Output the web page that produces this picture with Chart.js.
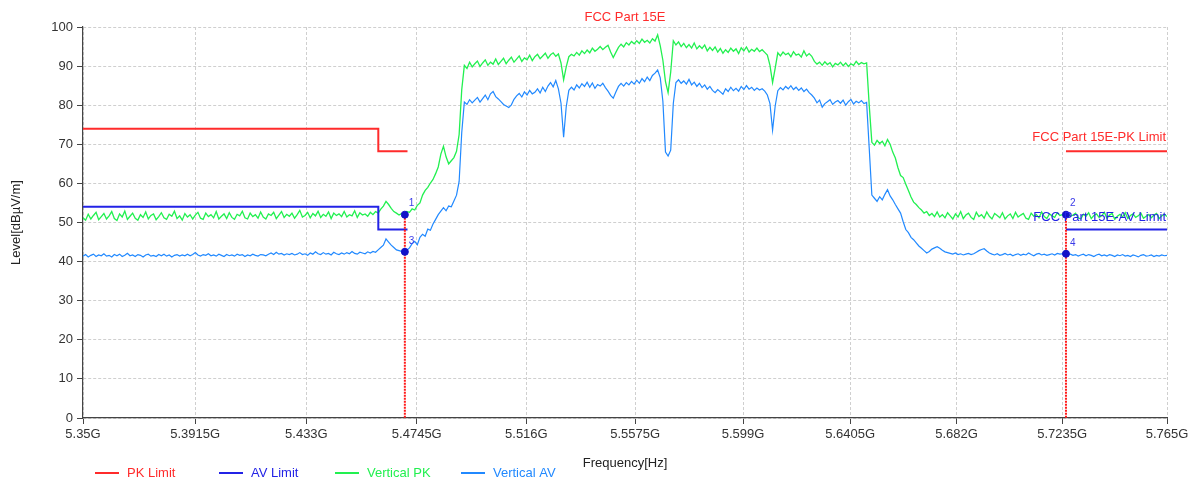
<!DOCTYPE html>
<html>
<head>
<meta charset="utf-8">
<script src="https://cdn.jsdelivr.net/npm/chart.js@4/dist/chart.umd.min.js"></script>
<style>
  html, body { margin: 0; padding: 0; background: #fff; }
  #wrap { width: 1197px; height: 479px; }
</style>
</head>
<body>
<div id="wrap"><canvas id="chart" width="1197" height="479"></canvas></div>
<script>
// log sweep: 5.35 GHz .. 5.765 GHz, 416 points (frequency axis is logarithmic)
const sweepStart = 5.35
const sweepStop = 5.765

const xTickValues = [5.35, 5.3915, 5.433, 5.4745, 5.516, 5.5575, 5.599, 5.6405, 5.682, 5.7235, 5.765]
const xTickLabels = ['5.35G', '5.3915G', '5.433G', '5.4745G', '5.516G', '5.5575G', '5.599G', '5.6405G', '5.682G', '5.7235G', '5.765G']

// Vertical PK trace [dBµV/m]
const verticalPK = [
  51.2, 50.6, 52.1, 50.9, 51.8, 52.6, 50.7, 51.5, 52.3, 50.9,
  51.7, 52.8, 51.0, 50.5, 52.2, 51.4, 52.9, 50.8, 51.6, 52.4,
  51.1, 50.6, 52.0, 51.3, 52.7, 50.9, 51.8, 52.2, 50.7, 51.5,
  52.5, 51.2, 50.8, 52.1, 51.6, 52.9, 51.0, 51.7, 50.6, 52.3,
  51.4, 52.0, 50.9, 51.9, 52.6, 51.1, 50.8, 52.4, 51.5, 52.0,
  51.2, 52.8, 50.9, 51.6, 52.2, 51.0, 52.5, 51.3, 50.8, 52.1,
  51.7, 52.9, 51.2, 50.9, 52.4, 51.5, 52.0, 51.1, 52.7, 51.4,
  50.9, 52.2, 51.8, 52.6, 51.0, 51.9, 52.8, 51.3, 52.1, 51.6,
  52.4, 51.1, 52.0, 53.1, 51.4, 51.8, 52.6, 51.2, 52.3, 51.7,
  52.9, 51.3, 52.1, 51.6, 52.7, 51.0, 52.4, 51.8, 52.2, 51.5,
  52.8, 51.4, 52.0, 51.7, 53.0, 51.3, 52.5, 51.9, 52.2, 51.6,
  52.6, 52.0, 52.8, 52.4, 53.4, 54.2, 55.4, 54.6, 53.6, 52.8,
  52.4, 51.9, 52.3, 52.0, 52.8, 52.6, 53.5, 53.2, 54.4, 55.0,
  57.0, 58.2, 59.0, 60.1, 61.0, 62.5, 64.2, 67.5, 69.5, 66.8,
  65.0, 65.8, 66.6, 68.2, 72.5, 84.0, 90.2, 89.4, 91.0, 89.8,
  90.6, 91.3, 89.9, 90.8, 91.6, 90.2, 91.0, 90.5, 91.8, 90.4,
  91.2, 92.0, 90.6, 91.5, 92.3, 91.0, 91.8, 92.6, 91.2, 92.1,
  91.6, 92.8, 91.4, 92.4, 93.0, 91.9, 92.6, 93.3, 92.0, 92.9,
  93.4, 92.5, 93.1, 90.8, 86.5, 89.8, 92.4, 93.0, 92.6, 93.5,
  92.8, 93.9, 93.2, 94.1, 93.4, 94.6, 93.8, 94.3, 95.0, 94.2,
  94.8, 95.3, 93.6, 92.2, 93.5, 94.8, 95.6, 94.9, 96.0, 95.4,
  96.3, 95.7, 96.5, 95.8, 96.9, 96.1, 96.6, 95.9, 97.0, 96.4,
  98.0, 95.2, 91.5, 86.0, 83.2, 88.5, 96.5, 95.4, 96.2, 95.0,
  95.8, 94.7, 95.5, 94.6, 95.9, 94.4, 95.2, 94.5, 95.4, 93.9,
  94.8, 94.0, 94.9, 93.6, 94.5, 93.3, 94.2, 93.5, 94.6, 93.8,
  94.4, 93.2, 94.7, 93.9, 94.9, 93.6, 94.3, 93.8, 94.6, 93.7,
  94.2, 93.5, 92.8, 90.2, 85.8, 89.5, 93.4, 92.6, 93.6, 92.9,
  93.3, 92.4, 93.7, 92.8, 93.1, 92.3, 93.9, 92.6, 93.2, 92.5,
  91.2, 90.5, 91.0, 90.2, 91.1, 90.4, 90.9, 89.8, 90.7, 90.3,
  91.0, 90.1, 90.8, 89.9, 90.6, 90.2, 91.2, 90.4, 90.9, 90.6,
  90.8, 80.0, 70.5, 69.8, 71.0, 70.2, 70.8, 69.6, 71.2, 70.0,
  68.0, 66.5, 64.0, 62.0, 61.5, 59.8, 58.2, 56.5, 55.2, 54.6,
  53.8, 53.2, 52.4, 52.8, 51.8, 52.3, 51.5, 52.7, 51.4, 52.0,
  51.2, 52.5, 51.7, 50.9, 52.2, 51.4, 52.8, 51.0, 51.9, 52.4,
  51.3, 50.8, 52.6, 51.5, 52.0, 51.1, 52.7, 51.6, 50.9, 52.3,
  51.8, 51.2, 52.5, 50.9, 51.7, 52.2, 51.0, 52.6, 51.4, 51.9,
  52.3, 51.1, 50.8, 52.4, 51.6, 52.0, 51.2, 52.7, 51.5, 51.0,
  52.2, 51.7, 51.3, 52.5, 51.8, 52.0, 51.9, 52.1, 51.6, 51.9,
  52.4, 51.2, 50.9, 52.1, 51.6, 52.5, 51.0, 51.8, 52.2, 51.3,
  51.7, 52.6, 51.1, 51.9, 52.3, 50.8, 51.6, 52.1, 51.4, 52.5,
  51.0, 51.8, 52.2, 51.3, 51.7, 52.4, 51.1, 51.6, 52.0, 51.2,
  51.9, 52.3, 51.0, 51.7, 52.1, 51.5
]

// Vertical AV trace [dBµV/m]
const verticalAV = [
  41.4, 41.8, 41.2, 41.6, 41.9, 41.3, 41.7, 41.5, 42.0, 41.4,
  41.6, 41.2, 41.8, 41.5, 41.9, 41.3, 41.6, 42.1, 41.5, 41.7,
  41.3, 41.8, 41.6, 41.2, 41.7, 41.9, 41.4, 41.6, 41.3, 41.8,
  41.5, 41.9, 41.4, 41.7, 41.2, 41.6, 41.8, 41.4, 41.7, 41.5,
  41.9, 41.5, 41.8, 42.3, 41.7, 41.4, 41.8, 41.6, 42.0, 41.5,
  41.7, 41.4, 41.9, 41.6, 41.3, 41.8, 41.5, 41.7, 41.4, 41.9,
  41.6, 41.8, 41.3, 41.7, 41.5, 41.9, 41.6, 41.4, 41.8, 41.7,
  41.5, 41.9, 42.2, 41.8, 42.4, 41.9, 42.1, 41.7, 42.0, 41.8,
  42.1, 41.7, 41.9, 42.3, 41.8, 42.0, 41.6, 42.2, 41.9, 42.5,
  42.0, 41.8, 42.3, 41.9, 42.1, 41.7, 42.4, 42.0, 41.8, 42.2,
  41.9, 42.3, 42.0, 42.6, 42.1, 41.9, 42.4, 42.2, 42.0, 42.5,
  42.2, 42.6, 42.4, 43.0, 43.6, 44.2, 45.8, 45.0, 44.2, 43.6,
  43.0, 42.8, 42.6, 42.5, 42.9, 43.5, 44.6, 45.2, 44.3, 46.2,
  47.0, 46.5, 48.3, 48.0, 49.6, 50.8, 52.0, 52.9, 53.8, 53.0,
  54.2, 54.0, 55.5, 57.0, 60.5, 73.0, 80.8, 80.2, 81.4, 80.6,
  81.3, 82.0, 80.8, 81.7, 82.6, 81.4, 82.9, 83.5, 82.2, 81.6,
  80.9, 80.2, 79.8, 79.4, 80.1, 81.5, 82.4, 83.0, 82.1, 83.4,
  82.6, 83.8, 82.9, 83.3, 84.2, 83.1, 84.6, 83.5, 84.9, 85.8,
  84.7, 86.3, 84.2, 80.5, 71.8, 79.6, 83.8, 84.6, 83.9, 85.2,
  84.4, 85.5, 84.8, 85.9, 84.6, 85.7, 84.3, 85.3, 84.9, 85.6,
  84.5, 83.6, 82.5, 81.8, 83.4, 84.8, 85.6, 84.9, 85.8, 85.2,
  86.1, 85.4, 86.4, 85.6, 86.8, 86.0, 87.2, 86.3, 87.6, 88.2,
  89.0, 87.0, 81.0, 68.0, 67.0, 68.5, 80.5, 85.8, 86.5, 85.6,
  86.2, 85.4, 86.6, 85.2, 85.9, 84.8, 85.6, 84.5, 85.2, 84.1,
  84.8, 83.8, 83.2, 84.0, 83.4, 82.8, 84.2, 83.5, 84.6, 83.7,
  84.3, 83.6, 84.8, 84.0, 85.0, 84.1, 84.6, 83.8, 84.4, 83.9,
  84.2, 83.6, 82.6, 80.4, 73.6, 79.8, 83.7, 84.5, 83.9, 84.8,
  84.2, 85.0, 84.0, 84.6, 83.8, 84.4, 83.5, 84.1, 83.2, 82.6,
  81.8, 80.6, 81.3, 79.5, 80.4, 80.9, 81.4, 80.2, 80.8, 81.2,
  80.5, 81.3, 80.0, 80.9, 81.5, 80.3, 81.0, 80.6, 81.2, 80.4,
  80.7, 69.0, 57.0, 56.2, 55.4, 56.6, 55.8, 57.2, 58.4, 56.8,
  55.8, 54.6, 53.5, 52.4, 50.2, 48.2, 47.4, 46.2, 45.6, 44.8,
  44.0, 43.4, 42.8, 42.2, 42.6, 43.2, 43.5, 43.8, 43.4, 42.9,
  42.5, 42.3, 42.1, 41.9, 42.2, 41.8, 42.0, 41.7, 41.9, 42.1,
  41.8, 42.0, 42.4, 42.8, 43.1, 43.3, 42.7, 42.2, 41.9, 41.7,
  42.0, 41.6, 41.8, 42.1, 41.7, 41.9, 41.5, 41.8, 42.0, 41.6,
  41.9, 41.7, 42.2, 41.8, 41.5, 41.9, 42.1, 41.7, 41.9, 41.6,
  41.8, 42.0, 41.7, 42.1, 41.9, 42.0, 42.0, 41.9, 41.9, 41.6,
  41.8, 41.4, 41.7, 41.9, 41.5, 41.8, 41.6, 41.3, 41.7, 41.9,
  41.5, 41.7, 41.4, 41.8, 41.6, 41.3, 41.7, 41.5, 41.8, 41.4,
  41.6, 41.3, 41.7, 41.5, 41.2, 41.6, 41.8, 41.4, 41.5, 41.7,
  41.3, 41.6, 41.4, 41.7, 41.5, 41.6
]

// FCC Part 15E limits: [frequency GHz, level dBµV/m]
const pkLimitLow = [[5.35, 74], [5.46, 74], [5.46, 68.2], [5.471, 68.2]]
const pkLimitHigh = [[5.725, 68.2], [5.765, 68.2]]
const avLimitLow = [[5.35, 54], [5.46, 54], [5.46, 48.2], [5.471, 48.2]]
const avLimitHigh = [[5.725, 48.2], [5.765, 48.2]]

// markers
const markerLabels = ['1', '2', '3', '4']
const markerFreq = [5.47, 5.725, 5.47, 5.725]
const markerLevel = [52.0, 52.0, 42.5, 42.0]

const chartTitle = 'FCC Part 15E'
const pkLimitText = 'FCC Part 15E-PK Limit'
const avLimitText = 'FCC Part 15E-AV Limit'

const RED = '#ff2b2b'
const NAVY = '#2323e6'
const GREEN = '#22f050'
const SKY = '#2189ff'
const FONT = '"Liberation Sans", Arial, sans-serif'

const toPoints = arr => arr.map(([x, y]) => ({ x, y }))
const sweep = vals => {
  const n = vals.length - 1
  return vals.map((v, i) => ({ x: sweepStart * Math.pow(sweepStop / sweepStart, i / n), y: v }))
}

const legendItems = [
  { text: 'PK Limit', color: RED, x: 95 },
  { text: 'AV Limit', color: NAVY, x: 219 },
  { text: 'Vertical PK', color: GREEN, x: 335 },
  { text: 'Vertical AV', color: SKY, x: 461 },
]

const overlay = {
  id: 'overlay',
  afterDraw(chart) {
    const { ctx, chartArea, scales: { x, y } } = chart
    ctx.save()
    ctx.textBaseline = 'middle'
    ctx.font = '13px ' + FONT

    // title
    ctx.fillStyle = RED
    ctx.textAlign = 'center'
    ctx.fillText(chartTitle, (chartArea.left + chartArea.right) / 2, 17)

    // limit names
    ctx.textAlign = 'right'
    ctx.fillText(pkLimitText, chartArea.right - 1, y.getPixelForValue(pkLimitHigh[0][1]) - 14)
    ctx.fillStyle = NAVY
    ctx.fillText(avLimitText, chartArea.right - 1, y.getPixelForValue(avLimitHigh[0][1]) - 12)

    // marker numbers
    ctx.font = '10px ' + FONT
    ctx.textAlign = 'left'
    ctx.fillStyle = '#3a3ae8'
    markerLabels.forEach((lbl, i) => {
      ctx.fillText(lbl, x.getPixelForValue(markerFreq[i]) + 4, y.getPixelForValue(markerLevel[i]) - 11)
    })

    // axis titles
    ctx.font = '13px ' + FONT
    ctx.fillStyle = '#222'
    ctx.textAlign = 'center'
    ctx.fillText('Frequency[Hz]', (chartArea.left + chartArea.right) / 2, 463)
    ctx.save()
    ctx.translate(16, (chartArea.top + chartArea.bottom) / 2)
    ctx.rotate(-Math.PI / 2)
    ctx.fillText('Level[dBµV/m]', 0, 0)
    ctx.restore()

    // legend
    ctx.textAlign = 'left'
    legendItems.forEach(it => {
      ctx.strokeStyle = it.color
      ctx.lineWidth = 2
      ctx.beginPath()
      ctx.moveTo(it.x, 473)
      ctx.lineTo(it.x + 24, 473)
      ctx.stroke()
      ctx.fillStyle = it.color
      ctx.fillText(it.text, it.x + 32, 473)
    })
    ctx.restore()
  }
}

// red dotted drop lines under the PK markers
const markerLines = [0, 1].map(i => ({
  type: 'line',
  data: [{ x: markerFreq[i], y: markerLevel[i] }, { x: markerFreq[i], y: 0 }],
  borderColor: '#ff1a1a',
  borderWidth: 2,
  borderDash: [2, 1],
  pointRadius: 0,
}))

const limitSet = (data, color) => ({
  type: 'line',
  data: toPoints(data),
  borderColor: color,
  borderWidth: 2,
  pointRadius: 0,
})

new Chart(document.getElementById('chart').getContext('2d'), {
  type: 'line',
  data: {
    datasets: [
      {
        type: 'scatter',
        data: markerFreq.map((f, i) => ({ x: f, y: markerLevel[i] })),
        backgroundColor: '#1212c8',
        borderColor: '#1212c8',
        pointRadius: 3.5,
      },
      ...markerLines,
      limitSet(pkLimitLow, RED),
      limitSet(pkLimitHigh, RED),
      limitSet(avLimitLow, NAVY),
      limitSet(avLimitHigh, NAVY),
      {
        label: 'Vertical PK',
        data: sweep(verticalPK),
        borderColor: GREEN,
        borderWidth: 1.3,
        pointRadius: 0,
      },
      {
        label: 'Vertical AV',
        data: sweep(verticalAV),
        borderColor: SKY,
        borderWidth: 1.2,
        pointRadius: 0,
      },
    ],
  },
  options: {
    responsive: false,
    animation: false,
    layout: { padding: { top: 27, right: 30, left: 0, bottom: 0 } },
    plugins: {
      legend: { display: false },
      tooltip: { enabled: false },
    },
    scales: {
      x: {
        type: 'logarithmic',
        min: sweepStart,
        max: sweepStop,
        afterBuildTicks: scale => { scale.ticks = xTickValues.map(v => ({ value: v })) },
        afterFit: scale => { scale.height = 61 },
        ticks: {
          autoSkip: false,
          maxRotation: 0,
          padding: 3,
          color: '#333',
          font: { family: FONT, size: 13 },
          callback: (v, i) => xTickLabels[i],
        },
        grid: { color: '#cfcfcf', tickColor: '#444', tickLength: 6 },
        border: { color: '#444', width: 1.2, dash: [3, 2] },
      },
      y: {
        min: 0,
        max: 100,
        afterFit: scale => { scale.width = 83 },
        ticks: {
          stepSize: 10,
          padding: 4,
          color: '#333',
          font: { family: FONT, size: 13 },
        },
        grid: { color: '#cfcfcf', tickColor: '#444', tickLength: 6 },
        border: { color: '#444', width: 1.2, dash: [3, 2] },
      },
    },
  },
  plugins: [overlay],
})
</script>
</body>
</html>
